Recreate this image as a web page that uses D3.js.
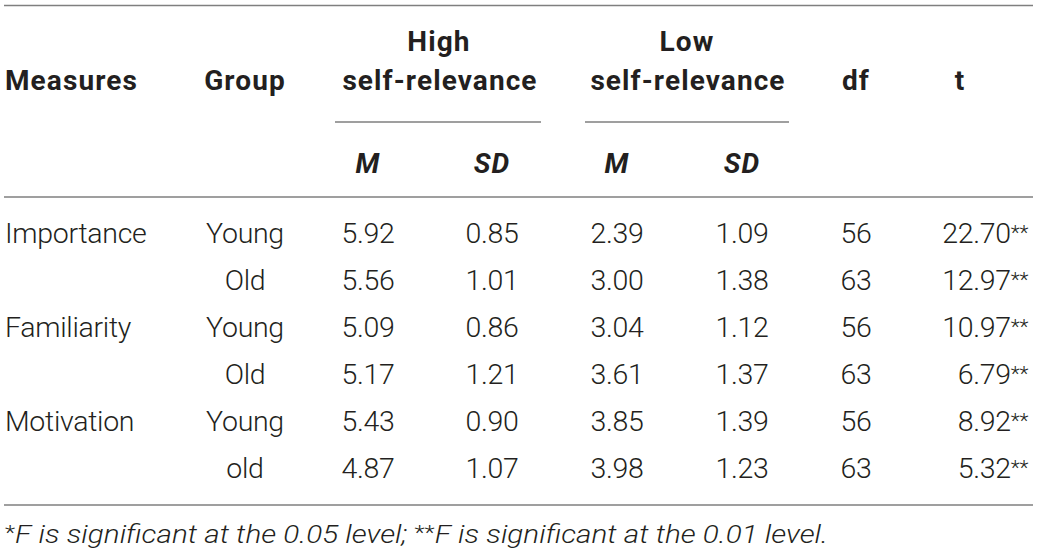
<!DOCTYPE html>
<html>
<head>
<meta charset="utf-8">
<script src="https://cdn.jsdelivr.net/npm/d3@7"></script>
<style>
  html, body { margin: 0; padding: 0; background: #fff; }
  svg { display: block; }
  .body-text { font-family: Roboto, "Liberation Sans", sans-serif; font-weight: 300; font-size: 28.5px; letter-spacing: -0.3px; fill: #231f20; }
  .head-text { font-family: Roboto, "Liberation Sans", sans-serif; font-weight: 700; font-size: 28px; letter-spacing: 1.1px; fill: #231f20; }
  .note-text { font-family: Roboto, "Liberation Sans", sans-serif; font-weight: 300; font-style: italic; font-size: 25px; fill: #231f20; }
</style>
</head>
<body>
<svg id="table" width="1039" height="554"></svg>
<script>
// table data
var measures = ["Importance", "Familiarity", "Motivation"];
var groups = ["Young", "Old", "Young", "Old", "Young", "old"];
var highM = [5.92, 5.56, 5.09, 5.17, 5.43, 4.87];
var highSD = [0.85, 1.01, 0.86, 1.21, 0.90, 1.07];
var lowM = [2.39, 3.00, 3.04, 3.61, 3.85, 3.98];
var lowSD = [1.09, 1.38, 1.12, 1.37, 1.39, 1.23];
var dfVals = [56, 63, 56, 63, 56, 63];
var tVals = [22.70, 12.97, 10.97, 6.79, 8.92, 5.32];
var tSig = ["**", "**", "**", "**", "**", "**"];
var footnote = ["*", "F is significant at the 0.05 level; ", "**", "F is significant at the 0.01 level."];

var fig = d3.select("#table");
var fmt = d3.format(".2f");

// column positions
var col = {measures: 5, group: 245, hM: 368, hSD: 492, lM: 617, lSD: 742, df: 856, t: 1028};
var rowY = d3.scalePoint().domain(d3.range(groups.length)).range([243, 478]);

function rule(y, x1, x2) {
  fig.append("line")
      .attr("x1", x1).attr("x2", x2)
      .attr("y1", y).attr("y2", y)
      .attr("stroke", "#7f7f7f")
      .attr("stroke-width", 1.6);
}

// RULES
rule(5.5, 4, 1033);
rule(122, 335, 541);
rule(122, 585, 789);
rule(197, 4, 1033);
rule(505, 4, 1033);

// HEADER
var head = fig.append("g").attr("class", "head-text");
head.append("text").attr("x", col.measures).attr("y", 90).text("Measures");
head.append("text").attr("x", col.group).attr("y", 90).attr("text-anchor", "middle").text("Group");
head.append("text").attr("x", 439).attr("y", 51).attr("text-anchor", "middle").text("High");
head.append("text").attr("x", 440).attr("y", 90).attr("text-anchor", "middle").text("self-relevance");
head.append("text").attr("x", 687).attr("y", 51).attr("text-anchor", "middle").text("Low");
head.append("text").attr("x", 688).attr("y", 90).attr("text-anchor", "middle").text("self-relevance");
head.append("text").attr("x", col.df).attr("y", 90).attr("text-anchor", "middle").text("df");
head.append("text").attr("x", 960).attr("y", 90).attr("text-anchor", "middle").text("t");

[["M", col.hM], ["SD", col.hSD], ["M", col.lM], ["SD", col.lSD]].forEach(function(d) {
  head.append("text")
      .attr("x", d[1]).attr("y", 173)
      .attr("text-anchor", "middle")
      .attr("font-style", "italic")
      .text(d[0]);
});

// BODY
var body = fig.append("g").attr("class", "body-text");

body.selectAll(".measure")
    .data(measures)
    .enter().append("text")
    .attr("class", "measure")
    .attr("x", col.measures)
    .attr("y", function(d, i) { return rowY(i * 2); })
    .text(function(d) { return d; });

var rows = body.selectAll(".row")
    .data(groups)
    .enter().append("g")
    .attr("class", "row")
    .attr("transform", function(d, i) { return "translate(0," + rowY(i) + ")"; });

rows.append("text").attr("x", col.group).attr("text-anchor", "middle")
    .text(function(d) { return d; });
rows.append("text").attr("x", col.hM).attr("text-anchor", "middle")
    .text(function(d, i) { return fmt(highM[i]); });
rows.append("text").attr("x", col.hSD).attr("text-anchor", "middle")
    .text(function(d, i) { return fmt(highSD[i]); });
rows.append("text").attr("x", col.lM).attr("text-anchor", "middle")
    .text(function(d, i) { return fmt(lowM[i]); });
rows.append("text").attr("x", col.lSD).attr("text-anchor", "middle")
    .text(function(d, i) { return fmt(lowSD[i]); });
rows.append("text").attr("x", col.df).attr("text-anchor", "middle")
    .text(function(d, i) { return dfVals[i]; });

var tText = rows.append("text").attr("x", col.t).attr("text-anchor", "end");
tText.append("tspan").text(function(d, i) { return fmt(tVals[i]); });
tText.append("tspan").attr("font-size", "21px").attr("dy", -3)
    .text(function(d, i) { return tSig[i]; });

// FOOTNOTE
var note = fig.append("text")
    .attr("class", "note-text")
    .attr("x", 5).attr("y", 543)
    .attr("textLength", 823)
    .attr("lengthAdjust", "spacingAndGlyphs");
note.selectAll("tspan")
    .data(footnote)
    .enter().append("tspan")
    .attr("font-style", function(d) { return d.indexOf("*") === 0 ? "normal" : "italic"; })
    .attr("font-size", function(d) { return d.indexOf("*") === 0 ? "20px" : null; })
    .attr("dy", function(d) { return d.indexOf("*") === 0 ? -3 : 3; })
    .text(function(d) { return d; });
</script>
</body>
</html>
